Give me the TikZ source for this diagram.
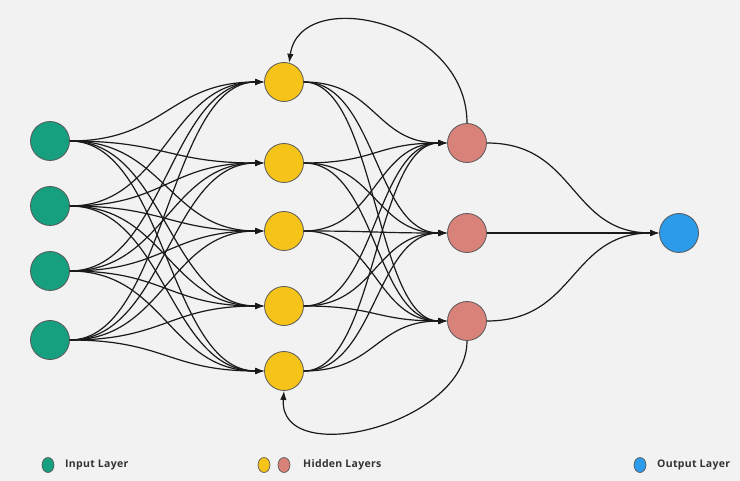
\documentclass[tikz,border=0pt]{standalone}
\usepackage{fontspec}
\setmainfont{Open Sans}
\usetikzlibrary{arrows.meta,shapes.geometric}
\definecolor{bg}{HTML}{F2F2F2}
\definecolor{cin}{HTML}{17A07F}
\definecolor{chid}{HTML}{F6C419}
\definecolor{cred}{HTML}{D9827A}
\definecolor{cout}{HTML}{2C9BEA}
\definecolor{edgec}{HTML}{1A1A1A}
\definecolor{txt}{HTML}{333333}
\newfontfamily\legfont[LetterSpace=3]{Open Sans}
\tikzset{
  neuron/.style={circle,minimum size=39pt,inner sep=0pt,draw=black!65,line width=0.8pt},
  innode/.style={neuron,fill=cin},
  hidnode/.style={neuron,fill=chid},
  rednode/.style={neuron,fill=cred},
  outnode/.style={neuron,fill=cout},
  conn/.style={draw=edgec,line width=1.2pt,-{Latex[length=9pt,width=6.5pt]}},
  legdot/.style={ellipse,minimum width=12pt,minimum height=15pt,inner sep=0pt,draw=black!65,line width=0.7pt},
  legtxt/.style={anchor=west,inner sep=0pt,text=txt,font=\legfont\fontsize{10.5}{12}\selectfont\bfseries}
}
\begin{document}
\begin{tikzpicture}[x=1pt,y=-1pt]
\fill[bg] (0,0) rectangle (740,481);
\useasboundingbox (0,0) rectangle (740,481);
% input layer
\node[innode] (i1) at (50,141) {};
\node[innode] (i2) at (50,206) {};
\node[innode] (i3) at (50,271) {};
\node[innode] (i4) at (50,340) {};
% hidden 1
\node[hidnode] (h1) at (284,82) {};
\node[hidnode] (h2) at (284,163) {};
\node[hidnode] (h3) at (284,231) {};
\node[hidnode] (h4) at (284,306) {};
\node[hidnode] (h5) at (284,371) {};
% hidden 2
\node[rednode] (r1) at (467,143) {};
\node[rednode] (r2) at (467,233) {};
\node[rednode] (r3) at (467,321) {};
% output
\node[outnode] (o) at (679,233) {};
% input -> hidden1
\foreach \a in {i1,i2,i3,i4}{
  \foreach \b in {h1,h2,h3,h4,h5}{
    \draw[conn] (\a.east) .. controls +(95,0) and +(-95,0) .. (\b.west);
  }
}
% hidden1 -> hidden2
\foreach \a in {h1,h2,h3,h4,h5}{
  \foreach \b in {r1,r2,r3}{
    \draw[conn] (\a.east) .. controls +(72,0) and +(-72,0) .. (\b.west);
  }
}
% hidden2 -> output
\foreach \a in {r1,r2,r3}{
  \draw[conn] (\a.east) .. controls +(90,0) and +(-90,0) .. (o.west);
}
% feedback arcs
\draw[conn] (r1.north) .. controls (467,20) and (300,-15) .. (h1.75);
\draw[conn] (r3.south) .. controls (467,425) and (278,470) .. (h5.south);
% legend
\node[legdot,fill=cin] (l1) at (48,465) {};
\node[legtxt] (t1) at (65,465) {Input Layer};
\node[legdot,fill=chid] (l2) at (264,465) {};
\node[legdot,fill=cred] (l3) at (284,465) {};
\node[legtxt] (t2) at (303,465) {Hidden Layers};
\node[legdot,fill=cout] (l4) at (640,465) {};
\node[legtxt] (t3) at (657,465) {Output Layer};
\end{tikzpicture}
\end{document}
